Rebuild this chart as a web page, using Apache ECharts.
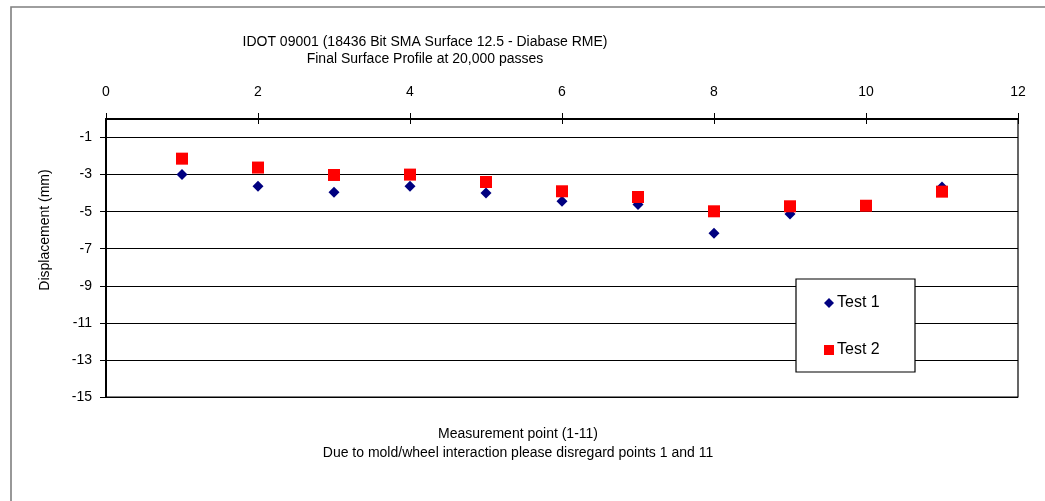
<!DOCTYPE html>
<html>
<head>
<meta charset="utf-8">
<script src="https://cdn.jsdelivr.net/npm/echarts@6/dist/echarts.min.js"></script>
<style>html,body{margin:0;padding:0;background:#fff;}#c{width:1045px;height:501px;}</style>
</head>
<body>
<div id="c"></div>
<script>
var titleLines = ['IDOT 09001 (18436 Bit SMA Surface 12.5 - Diabase RME)', 'Final Surface Profile at 20,000 passes'];
var xTitleLines = ['Measurement point (1-11)', 'Due to mold/wheel interaction please disregard points 1 and 11'];
var yTitle = 'Displacement (mm)';
var points = [1, 2, 3, 4, 5, 6, 7, 8, 9, 10, 11];
var test1 = [-3.0, -3.63, -3.95, -3.63, -3.99, -4.44, -4.62, -6.17, -5.12, -4.70, -3.67];
var test2 = [-2.14, -2.62, -3.02, -3.0, -3.40, -3.90, -4.21, -4.98, -4.71, -4.68, -3.92];
var seriesNames = ['Test 1', 'Test 2'];

var FONT = '"Liberation Sans", Arial, sans-serif';
function pairs(xs, ys) { return xs.map(function (x, i) { return [x, ys[i]]; }); }

var chart = echarts.init(document.getElementById('c'), null, { renderer: 'canvas' });
chart.setOption({
  animation: false,
  backgroundColor: '#fff',
  textStyle: { fontFamily: FONT },
  grid: { left: 106, top: 119, right: 27, bottom: 104, show: true, borderColor: '#000', borderWidth: 1.2, backgroundColor: 'transparent' },
  xAxis: [{
    type: 'value', position: 'top', min: 0, max: 12, interval: 2,
    axisLine: { show: true, onZero: false, lineStyle: { color: '#000', width: 2 } },
    axisTick: { show: true, inside: false, length: 6, lineStyle: { color: '#000' } },
    axisLabel: { color: '#000', fontSize: 14, fontFamily: FONT, margin: 20 },
    splitLine: { show: false }
  }, {
    type: 'value', position: 'top', min: 0, max: 12, interval: 2,
    axisLine: { show: false, onZero: false },
    axisTick: { show: true, inside: true, length: 5, lineStyle: { color: '#000' } },
    axisLabel: { show: false },
    splitLine: { show: false }
  }],
  yAxis: {
    type: 'value', min: -15, max: 0, interval: 2,
    axisLine: { show: true, lineStyle: { color: '#000', width: 2 } },
    axisTick: { show: true, inside: false, length: 6, lineStyle: { color: '#000' } },
    axisLabel: { color: '#000', fontSize: 14, fontFamily: FONT, margin: 14, showMaxLabel: false,
      formatter: function (v) { return v === 0 ? '' : String(v); } },
    splitLine: { show: true, lineStyle: { color: '#000', width: 1 } }
  },
  legend: {
    orient: 'vertical', left: 824, top: 295, z: 20,
    padding: 0, itemGap: 31, itemWidth: 10, itemHeight: 10,
    textStyle: { color: '#000', fontSize: 16, fontFamily: FONT, padding: [0, 0, 0, -2] },
    data: [
      { name: seriesNames[0], icon: 'diamond', itemStyle: { color: '#000080', opacity: 1 } },
      { name: seriesNames[1], icon: 'rect', itemStyle: { color: '#ff0000', opacity: 1 } }
    ]
  },
  series: [{
    name: seriesNames[0], type: 'scatter', symbol: 'diamond', symbolSize: 11,
    itemStyle: { color: '#000080', opacity: 1 }, data: pairs(points, test1), z: 3
  }, {
    name: seriesNames[1], type: 'scatter', symbol: 'rect', symbolSize: 12,
    itemStyle: { color: '#ff0000', opacity: 1 }, data: pairs(points, test2), z: 4
  }],
  graphic: [
    { type: 'rect', z: -10, silent: true, shape: { x: 11, y: 7, width: 1200, height: 700 },
      style: { fill: 'none', stroke: '#7f7f7f', lineWidth: 1.6 } },
    { type: 'rect', z: 2, silent: true, shape: { x: 796, y: 279, width: 119, height: 93 },
      style: { fill: '#fff', stroke: '#000', lineWidth: 1.2 } },
    { type: 'text', silent: true, x: 425, y: 42, style: { text: titleLines[0], fontSize: 14, fontFamily: FONT, fill: '#000', align: 'center', verticalAlign: 'middle' } },
    { type: 'text', silent: true, x: 425, y: 59, style: { text: titleLines[1], fontSize: 14, fontFamily: FONT, fill: '#000', align: 'center', verticalAlign: 'middle' } },
    { type: 'text', silent: true, x: 518, y: 434, style: { text: xTitleLines[0], fontSize: 14, fontFamily: FONT, fill: '#000', align: 'center', verticalAlign: 'middle' } },
    { type: 'text', silent: true, x: 518, y: 453, style: { text: xTitleLines[1], fontSize: 14, fontFamily: FONT, fill: '#000', align: 'center', verticalAlign: 'middle' } },
    { type: 'text', silent: true, x: 45, y: 230, rotation: Math.PI / 2, style: { text: yTitle, fontSize: 14, fontFamily: FONT, fill: '#000', align: 'center', verticalAlign: 'middle' } }
  ]
});
</script>
</body>
</html>
